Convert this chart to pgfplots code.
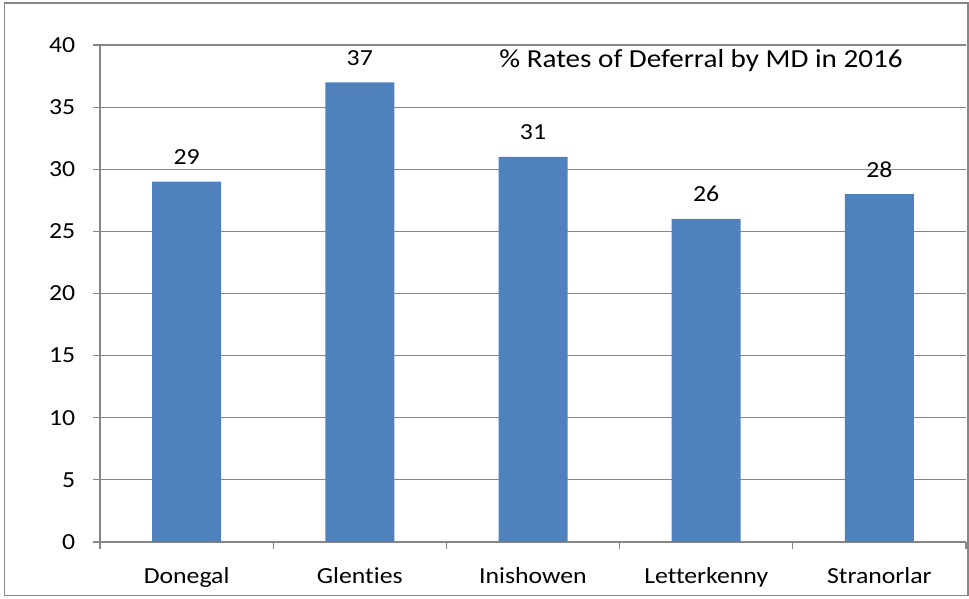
\documentclass[border=0pt]{standalone}
\usepackage{pgfplots}
\pgfplotsset{compat=1.18}
\usepackage{fontspec}
\setmainfont{Carlito}[FakeStretch=1.12, Ligatures={NoCommon}]
\definecolor{barblue}{HTML}{4F81BD}
\definecolor{linegray}{HTML}{868686}
\begin{document}
\fontsize{23}{27}\selectfont
\begin{tikzpicture}
\begin{axis}[
    at={(0pt,0pt)}, anchor=south west,
    scale only axis,
    width=866pt, height=497pt,
    xmin=-0.5, xmax=4.5,
    ymin=0, ymax=40,
    ytick={0,5,...,40},
    xtick={-0.5,0.5,...,4.5},
    xticklabels={},
    extra x ticks={0,1,2,3,4},
    extra x tick labels={Donegal,Glenties,Inishowen,Letterkenny,Stranorlar},
    extra x tick style={major tick length=0pt, grid=none},
    axis x line*=bottom, axis y line*=left,
    axis line style={draw=linegray, line width=1.2pt, -},
    tick style={draw=linegray, line width=1.2pt},
    tick align=outside,
    major tick length=7pt,
    ymajorgrids,
    grid style={draw=linegray, line width=1.2pt},
    /pgf/number format/assume math mode=true,
    yticklabel style={xshift=-10pt, font=\fontsize{23}{27}\selectfont},
    xticklabel style={yshift=-18pt, font=\fontsize{23}{27}\selectfont},
    ybar, bar width=69pt,
    nodes near coords,
    nodes near coords style={yshift=9pt, font=\fontsize{23}{27}\selectfont, text=black},
]
\addplot[fill=barblue, draw=none] coordinates {
    (0,29) (1,37) (2,31) (3,26) (4,28)
};
\node[font=\fontsize{26}{30}\selectfont] at (axis cs:2.97,38.75) {\% Rates of Deferral by MD in 2016};
\end{axis}
\pgfresetboundingbox
\useasboundingbox (-100pt,-57pt) rectangle (869pt,542pt);
\draw[linegray, line width=1.2pt] (-95.5pt,-53.5pt) rectangle (868pt,539pt);
\end{tikzpicture}
\end{document}
